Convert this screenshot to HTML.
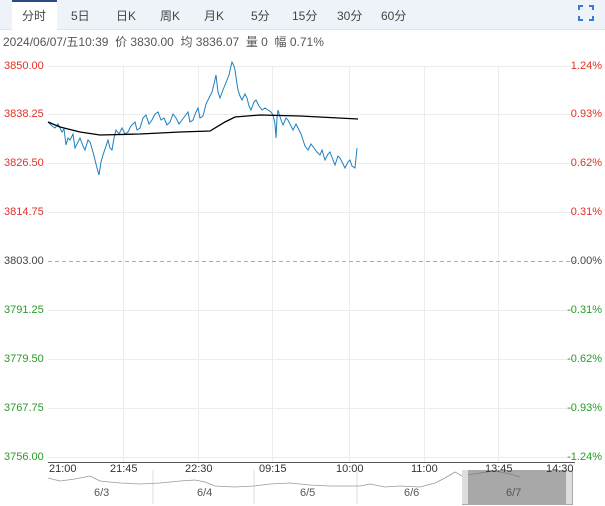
<!DOCTYPE html>
<html><head><meta charset="utf-8"><style>
body{margin:0;width:605px;height:506px;background:#fff;font-family:"Liberation Sans","Noto Sans CJK SC",sans-serif;position:relative;overflow:hidden}
.bar{position:absolute;left:0;top:0;width:605px;height:29px;background:#eef3fa;border-bottom:1px solid #dde6f0}
.tab{position:absolute;top:7px;font-size:12px;color:#444}
.act{position:absolute;left:12px;top:0;width:45px;height:30px;background:#fff;border-top:2px solid #2b4a8a;box-sizing:border-box}
.info{position:absolute;left:3px;top:33px;font-size:12px;color:#555}
.l{position:absolute;font-size:11px;left:4px}
.r{position:absolute;font-size:11px;right:3px}
.t{position:absolute;top:463px;font-size:11px;color:#333}
</style></head><body>
<div class="bar"></div><div class="act"></div>
<span class="tab" style="left:22px">分时</span><span class="tab" style="left:71px">5日</span>
<span class="tab" style="left:116px">日K</span><span class="tab" style="left:160px">周K</span>
<span class="tab" style="left:204px">月K</span><span class="tab" style="left:251px">5分</span>
<span class="tab" style="left:292px">15分</span><span class="tab" style="left:337px">30分</span>
<span class="tab" style="left:381px">60分</span>
<svg style="position:absolute;left:578px;top:5px" width="16" height="16"><path d="M1 5V1H5M11 1H15V5M15 11V15H11M5 15H1V11" stroke="#3a7bd5" stroke-width="2" fill="none"/></svg>
<div class="info">2024/06/07/五10:39 &nbsp;价 3830.00 &nbsp;均 3836.07 &nbsp;量 0 &nbsp;幅 0.71%</div>
<svg style="position:absolute;left:0;top:0" width="605" height="506">
<g stroke="#ececec" stroke-width="1">
<line x1="48" y1="66.5" x2="575" y2="66.5"/><line x1="48" y1="114.5" x2="575" y2="114.5"/><line x1="48" y1="163.5" x2="575" y2="163.5"/><line x1="48" y1="212.5" x2="575" y2="212.5"/>
<line x1="48" y1="310.5" x2="575" y2="310.5"/><line x1="48" y1="359.5" x2="575" y2="359.5"/><line x1="48" y1="408.5" x2="575" y2="408.5"/><line x1="48" y1="457.5" x2="575" y2="457.5"/>
<line x1="123.5" y1="66" x2="123.5" y2="462"/><line x1="198.5" y1="66" x2="198.5" y2="462"/><line x1="272.5" y1="66" x2="272.5" y2="462"/><line x1="349.5" y1="66" x2="349.5" y2="462"/><line x1="424.5" y1="66" x2="424.5" y2="462"/><line x1="498.5" y1="66" x2="498.5" y2="462"/>
</g>
<line x1="48" y1="261.5" x2="575" y2="261.5" stroke="#aaa" stroke-dasharray="4,3"/>
<line x1="48" y1="462.5" x2="575" y2="462.5" stroke="#555" stroke-width="1"/>
<polyline fill="none" stroke="#1e7fc0" stroke-width="1" points="48,122 52,126 55,128 58,124 62,132 64,129 66,145 68,138 70,140 73,134 75,148 78,142 80,138 83,146 85,150 88,140 90,142 93,152 95,160 97,168 99,175 101,162 103,155 106,146 108,140 110,148 112,150 114,138 116,130 119,134 122,128 125,134 128,132 131,126 135,122 137,130 140,128 143,118 146,115 149,124 152,120 155,114 158,112 161,120 164,118 167,125 170,122 173,114 176,118 179,124 182,120 185,116 188,112 190,122 193,120 196,112 198,108 200,118 203,116 206,104 208,100 210,96 212,92 214,84 216,75 218,92 220,98 223,90 225,85 227,80 229,75 231,66 232,62 234,66 235,70 237,84 238,90 240,96 242,100 245,94 247,98 249,106 251,110 254,102 256,100 259,106 262,110 265,108 268,110 271,112 273,115 275,124 276,138 277,118 278,110 281,120 283,125 286,118 288,120 291,126 293,130 296,124 298,128 301,134 303,140 305,146 308,150 311,144 314,148 317,152 320,155 322,150 325,160 328,154 330,152 333,160 335,165 338,156 340,158 343,164 345,168 348,162 350,160 352,166 355,168 356,158 357,148"/>
<polyline fill="none" stroke="#000" stroke-width="1.3" points="48,122 60,127 80,132 100,135 140,134 180,132 210,131 225,122 235,117 260,115 300,116 358,119"/>
<rect x="48" y="470" width="525" height="34" fill="#fff"/>
<g stroke="#ddd"><line x1="153" y1="470" x2="153" y2="504"/><line x1="254" y1="470" x2="254" y2="504"/><line x1="357" y1="470" x2="357" y2="504"/></g>
<polyline fill="none" stroke="#999" stroke-width="0.8" points="48,478 60,481 75,479 90,476 100,481 120,483 140,484 160,483 180,481 195,480 205,482 215,486 235,487 254,486 270,484 290,483 310,485 330,486 350,486 360,486 370,484 385,487 400,486 420,487 435,483 445,478 455,472 462,476 480,473 495,471 510,474 520,477"/>
<rect x="462.5" y="470.5" width="110" height="34" fill="rgba(110,110,110,0.6)" stroke="#aaa"/>
<rect x="462" y="470" width="6" height="34" fill="#ddd"/><rect x="566" y="470" width="6" height="34" fill="#ddd"/>
<g font-size="11" fill="#555" font-family="Liberation Sans,sans-serif"><text x="94" y="496">6/3</text><text x="197" y="496">6/4</text><text x="300" y="496">6/5</text><text x="404" y="496">6/6</text><text x="506" y="496">6/7</text></g>
</svg>
<div class="l" style="top:60px;color:#e0302a">3850.00</div><div class="l" style="top:108px;color:#e0302a">3838.25</div>
<div class="l" style="top:157px;color:#e0302a">3826.50</div><div class="l" style="top:206px;color:#e0302a">3814.75</div>
<div class="l" style="top:255px;color:#444">3803.00</div><div class="l" style="top:304px;color:#2a9a2a">3791.25</div>
<div class="l" style="top:353px;color:#2a9a2a">3779.50</div><div class="l" style="top:402px;color:#2a9a2a">3767.75</div>
<div class="l" style="top:451px;color:#2a9a2a">3756.00</div>
<div class="r" style="top:60px;color:#e0302a">1.24%</div><div class="r" style="top:108px;color:#e0302a">0.93%</div>
<div class="r" style="top:157px;color:#e0302a">0.62%</div><div class="r" style="top:206px;color:#e0302a">0.31%</div>
<div class="r" style="top:255px;color:#444">0.00%</div><div class="r" style="top:304px;color:#2a9a2a">-0.31%</div>
<div class="r" style="top:353px;color:#2a9a2a">-0.62%</div><div class="r" style="top:402px;color:#2a9a2a">-0.93%</div>
<div class="r" style="top:451px;color:#2a9a2a">-1.24%</div>
<span class="t" style="left:49px">21:00</span><span class="t" style="left:110px">21:45</span><span class="t" style="left:185px">22:30</span>
<span class="t" style="left:259px">09:15</span><span class="t" style="left:336px">10:00</span><span class="t" style="left:411px">11:00</span>
<span class="t" style="left:485px">13:45</span><span class="t" style="left:546px">14:30</span>
</body></html>
